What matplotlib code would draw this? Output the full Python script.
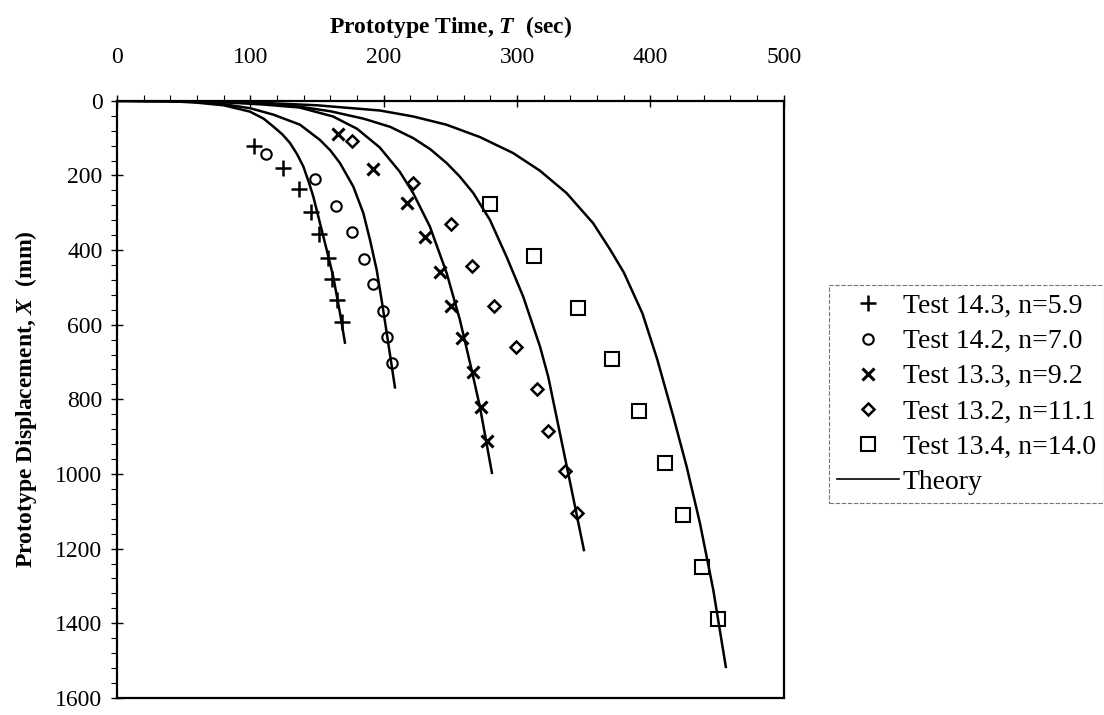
import matplotlib.pyplot as plt
from matplotlib.ticker import MultipleLocator

plt.rcParams['font.family'] = ['Liberation Serif', 'DejaVu Serif']
plt.rcParams['mathtext.fontset'] = 'custom'
plt.rcParams['mathtext.it'] = 'Liberation Serif:italic:bold'
plt.rcParams['mathtext.rm'] = 'Liberation Serif:bold'

# Measured runs: prototype time T (sec) vs displacement X (mm)
t_143 = [102.7, 124.2, 136.4, 145.2, 151.4, 157.9, 160.9, 164.7, 168.9]
x_143 = [122, 180, 236, 298, 357, 420, 477, 533, 592]

t_142 = [111.5, 148.4, 163.9, 175.9, 185.4, 192.2, 199.6, 202.6, 206.4]
x_142 = [142, 210, 281, 352, 424, 491, 563, 632, 703]

t_133 = [165.9, 192.1, 217.2, 230.9, 242.1, 250.4, 258.4, 267.1, 272.6, 277.6]
x_133 = [89, 183, 274, 365, 458, 550, 636, 728, 821, 913]

t_132 = [176.4, 222.1, 250.4, 265.9, 282.8, 299.1, 314.6, 323.3, 335.8, 344.6]
x_132 = [107, 221, 331, 442, 551, 661, 773, 884, 992, 1104]

t_134 = [279.6, 312.6, 345.4, 371.3, 391.3, 410.8, 424.5, 438.3, 450.3]
x_134 = [276, 416, 556, 692, 831, 970, 1110, 1250, 1390]

# Theory curves, one per test
th_t1 = [0, 40, 60, 80, 99.7, 110, 117.2, 124, 129.7, 135, 139.7, 144, 147.2, 152.2, 157.2, 162.1, 167.2, 170.9]
th_x1 = [0, 1, 5, 12, 29, 48, 69, 90, 113, 143, 176, 220, 257, 328, 399, 471, 569, 648]

th_t2 = [0, 40, 60, 80, 100, 117.2, 137.2, 152.2, 160, 167.2, 177.2, 184.7, 189.7, 194.7, 198.4, 201.5, 208.4]
th_x2 = [0, 1, 3, 9, 20, 37, 64, 105, 133, 167, 230, 301, 373, 453, 534, 605, 768]

th_t3 = [0, 50, 80, 110, 137, 162, 180, 197, 212, 222, 234.6, 247.2, 257.1, 265.9, 272.1, 281.1]
th_x3 = [0, 1, 4, 10, 18, 42, 75, 125, 190, 247, 337, 462, 587, 721, 820, 997]

th_t4 = [0, 60, 100, 130, 160, 185, 205, 222.1, 235, 247.2, 257, 267.1, 279.6, 292.1, 304.6, 317.2,
         323.3, 332.1, 340.9, 350.1]
th_x4 = [0, 1, 5, 12, 28, 48, 70, 100, 130, 167, 203, 247, 319, 418, 525, 659, 739, 891, 1043, 1204]

th_t5 = [0, 60, 100, 150, 197.2, 222.1, 247, 272, 297, 317, 337, 357, 370, 380, 394, 405,
         417.1, 427.1, 437.1, 447.1, 456.5]
th_x5 = [0, 1, 4, 12, 26, 42, 64, 97, 140, 187, 247, 328, 400, 460, 570, 692, 846, 980, 1132, 1311, 1517]

labels = ["Test 14.3, n=5.9", "Test 14.2, n=7.0", "Test 13.3, n=9.2",
          "Test 13.2, n=11.1", "Test 13.4, n=14.0"]

fig = plt.figure(figsize=(11.04, 7.15), dpi=100)
ax = fig.add_axes([0.106, 0.024, 0.604, 0.835])

for tt, xx in [(th_t1, th_x1), (th_t2, th_x2), (th_t3, th_x3), (th_t4, th_x4), (th_t5, th_x5)]:
    ax.plot(tt, xx, color='black', lw=1.8, zorder=2)

mk = dict(linestyle='none', color='black', mfc='none', zorder=3)
ax.plot(t_143, x_143, marker='+', ms=11, mew=1.8, label=labels[0], **mk)
ax.plot(t_142, x_142, marker='o', ms=7.5, mew=1.5, label=labels[1], **mk)
ax.plot(t_133, x_133, marker='x', ms=9, mew=2.2, label=labels[2], **mk)
ax.plot(t_132, x_132, marker='D', ms=6.5, mew=1.8, label=labels[3], **mk)
ax.plot(t_134, x_134, marker='s', ms=9.5, mew=1.5, label=labels[4], **mk)
ax.plot([], [], color='black', lw=1.2, label='Theory')

ax.set_xlim(0, 500)
ax.set_ylim(1600, 0)
ax.xaxis.set_major_locator(MultipleLocator(100))
ax.xaxis.set_minor_locator(MultipleLocator(20))
ax.yaxis.set_major_locator(MultipleLocator(200))
ax.yaxis.set_minor_locator(MultipleLocator(40))
ax.xaxis.tick_top()
ax.xaxis.set_label_position('top')
ax.tick_params(which='major', direction='inout', length=9, width=1.0, labelsize=17, pad=19)
ax.tick_params(which='minor', direction='out', length=4, width=0.8)
ax.tick_params(axis='y', pad=6)
ax.tick_params(bottom=False, right=False, which='both')
for s in ax.spines.values():
    s.set_linewidth(1.6)

ax.set_xlabel("Prototype Time, $T$  (sec)", fontsize=17, fontweight='bold', labelpad=10)
ax.set_ylabel("Prototype Displacement, $X$  (mm)", fontsize=17, fontweight='bold', labelpad=12)

leg = fig.legend(loc='upper left', bbox_to_anchor=(0.751, 0.601), fontsize=20, frameon=True,
                 fancybox=False, handlelength=2.2, handletextpad=0.15, borderpad=0.3,
                 labelspacing=0.35, borderaxespad=0)
leg.get_frame().set_edgecolor('#555555')
leg.get_frame().set_linestyle((0, (4, 1.5)))
leg.get_frame().set_linewidth(0.8)

fig.savefig('out.png', dpi=100)
